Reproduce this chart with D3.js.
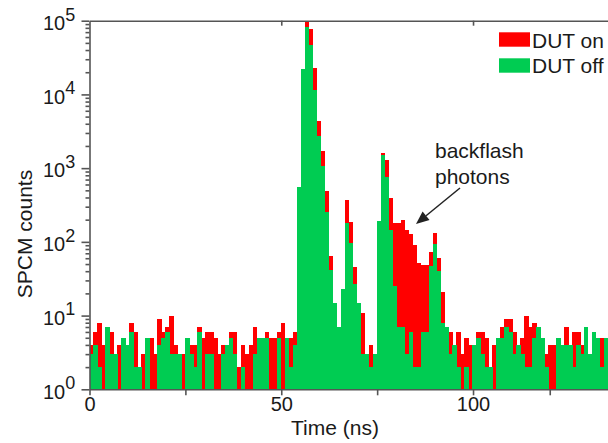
<!DOCTYPE html>
<html>
<head>
<meta charset="utf-8">
<script src="https://cdn.jsdelivr.net/npm/d3@7"></script>
<style>
body{margin:0;background:#fff;overflow:hidden}
text{font-family:Arial,"Liberation Sans",sans-serif;fill:#1a1a1a}
</style>
</head>
<body>
<svg id="chart" width="608" height="443"></svg>
<script>
// histogram bin width (ns)
const binWidth = 1.04;
// SPCM counts per bin, DUT on
const dutOn = [
  4,6,8,4,4,6,2,4,3,2,
  8,6,2,3,3,5,3,9,6,7,
  10,4,2,3,4,4,4,7,5,6,
  6,5,3,4,4,6,6,2,4,3,
  4,7,5,5,6,5,5,6,8,4,
  5,6,500,20000,97000,77000,23000,4370,1700,490,
  64,12,5,20,370,188,46,14,11,2,
  4,3,180,1600,1290,395,178,182,198,145,
  126,92,51,48,48,74,133,61,21,7,
  6,4,6,3,5,4,4,6,6,5,
  2,4,5,7,9,9,6,4,5,10,
  7,8,7,5,3,4,4,5,4,7,
  4,6,6,4,7,3,6,5,5,5
];
// SPCM counts per bin, DUT off
const dutOff = [
  3,4,2,1,7,3,3,1,5,4,
  6,2,2,1,5,1,1,4,5,6,
  3,3,3,1,5,3,2,6,1,3,
  3,1,1,3,4,5,3,1,2,1,
  1,3,5,5,5,1,1,5,1,5,
  2,4,560,22200,83000,47000,11500,2690,1080,257,
  42,15,7,23,180,97,27,15,3,3,
  2,3,194,1500,770,145,25,7,7,3,
  6,2,2,6,6,47,95,40,8,7,
  3,4,2,1,2,1,4,5,3,2,
  2,1,5,5,7,6,3,4,3,2,
  2,5,7,5,2,1,1,5,4,4,
  4,2,4,3,7,3,6,5,2,5
];
const xMajorTicks = [0, 50, 100];
const xMinorTicks = [25, 75, 120];
const yExponents = [0, 1, 2, 3, 4, 5];
const seriesNames = ['DUT on', 'DUT off'];
const seriesColors = ['#ff0000', '#00cc52'];

const svg = d3.select('#chart');
const x = d3.scaleLinear().domain([0, 136]).range([89.5, 611.1]);
const y = d3.scaleLog().domain([1, 1e5]).range([389.3, 20.7]);
const axisColor = '#555';

// bars: red (on) behind, green (off) on top
[dutOn, dutOff].forEach((arr, k) => {
  svg.append('g').selectAll('rect')
    .data(arr)
    .join('rect')
    .attr('x', (d, i) => x(i * binWidth))
    .attr('width', x(binWidth) - x(0) + 0.4)
    .attr('y', d => y(d))
    .attr('height', d => y(1) - y(d))
    .attr('fill', seriesColors[k])
    .attr('shape-rendering', 'crispEdges');
});

// y minor ticks values
let yMinor = [];
yExponents.slice(0, -1).forEach(e => {
  for (let m = 2; m <= 9; m++) yMinor.push(m * Math.pow(10, e));
});

function styleAxis(g) {
  g.selectAll('path,line').attr('stroke', axisColor).attr('stroke-width', 1.6);
}

// left axis
svg.append('g').attr('transform', 'translate(89.5,0)')
  .call(d3.axisLeft(y).tickValues(yExponents.map(e => Math.pow(10, e))).tickSize(8).tickSizeOuter(0).tickFormat(''))
  .call(styleAxis);
svg.append('g').attr('transform', 'translate(89.5,0)')
  .call(d3.axisLeft(y).tickValues(yMinor).tickSize(4).tickSizeOuter(0).tickFormat(''))
  .call(g => g.select('.domain').remove())
  .call(styleAxis);

// y labels 10^n
yExponents.forEach(e => {
  const t = svg.append('text')
    .attr('x', 43)
    .attr('y', y(Math.pow(10, e)) + 9.3)
    .attr('font-size', 20);
  t.append('tspan').text('10');
  t.append('tspan').attr('dy', -9.5).attr('font-size', 18).text(e);
});

// bottom axis
svg.append('g').attr('transform', 'translate(0,389.3)')
  .call(d3.axisBottom(x).tickValues(xMajorTicks).tickSize(6).tickPadding(2).tickSizeOuter(0).tickFormat(d3.format('d')))
  .call(styleAxis)
  .call(g => g.selectAll('text').attr('font-size', 20).attr('fill', '#1a1a1a').attr('font-family', 'Arial, Liberation Sans, sans-serif'));
svg.append('g').attr('transform', 'translate(0,389.3)')
  .call(d3.axisBottom(x).tickValues(xMinorTicks).tickSize(6).tickSizeOuter(0).tickFormat(''))
  .call(g => g.select('.domain').remove())
  .call(styleAxis);

// top axis, ticks inward
svg.append('g').attr('transform', 'translate(0,20.7)')
  .call(d3.axisBottom(x).tickValues([50, 100]).tickSize(5).tickSizeOuter(0).tickFormat(''))
  .call(styleAxis);

// axis titles
svg.append('text')
  .attr('x', 335).attr('y', 435)
  .attr('text-anchor', 'middle')
  .attr('font-size', 21)
  .text('Time (ns)');
svg.append('text')
  .attr('transform', 'translate(31.5,234) rotate(-90)')
  .attr('text-anchor', 'middle')
  .attr('font-size', 21)
  .text('SPCM counts');

// legend
const leg = svg.append('g').attr('transform', 'translate(499,32.3)');
seriesNames.forEach((name, k) => {
  leg.append('rect')
    .attr('x', 0).attr('y', k * 26)
    .attr('width', 31).attr('height', 14.4)
    .attr('fill', seriesColors[k]);
  leg.append('text')
    .attr('x', 33).attr('y', k * 24.4 + 16)
    .attr('font-size', 21)
    .text(name);
});

// annotation
svg.append('text').attr('x', 435).attr('y', 158).attr('font-size', 21).text('backflash');
svg.append('text').attr('x', 435).attr('y', 184).attr('font-size', 21).text('photons');

const from = [460, 188], tip = [416, 224];
const dx = tip[0] - from[0], dy = tip[1] - from[1];
const len = Math.hypot(dx, dy);
const ux = dx / len, uy = dy / len;
const headL = 13, headW = 5.5;
const bx = tip[0] - headL * ux, by = tip[1] - headL * uy;
svg.append('line')
  .attr('x1', from[0]).attr('y1', from[1])
  .attr('x2', bx).attr('y2', by)
  .attr('stroke', '#222').attr('stroke-width', 1.5);
svg.append('path')
  .attr('d', `M${tip[0]},${tip[1]}L${bx - headW * uy},${by + headW * ux}L${bx + headW * uy},${by - headW * ux}Z`)
  .attr('fill', '#222');
</script>
</body>
</html>
